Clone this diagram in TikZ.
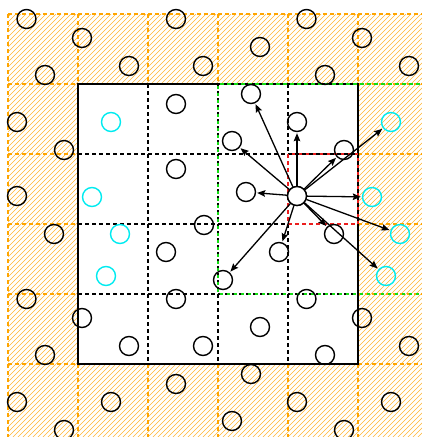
\documentclass[tikz,border=0pt]{standalone}
\usetikzlibrary{arrows.meta}
\definecolor{hatchor}{RGB}{255,180,50}
\definecolor{gridor}{RGB}{255,165,0}
\definecolor{grn}{RGB}{20,220,20}
\definecolor{rd}{RGB}{235,30,30}
\definecolor{cy}{RGB}{0,235,240}
\tikzset{
  p/.style={circle,draw=black,line width=1.4pt,minimum size=19pt,inner sep=0pt},
  q/.style={p,draw=cy},
  ctr/.style={p,fill=white},
  arr/.style={line width=1.3pt,shorten >=1pt,-{Stealth[length=8pt,width=6.5pt,inset=1.2pt]}},
  odash/.style={draw=gridor,line width=1.5pt,dash pattern=on 3.5pt off 3.5pt},
  kdash/.style={draw=black,line width=1.5pt,dash pattern=on 3.5pt off 3.5pt},
  gdash/.style={draw=grn,line width=1.7pt,dash pattern=on 3.5pt off 3.5pt,dash phase=3.5pt},
  rdash/.style={draw=rd,line width=1.7pt,dash pattern=on 3.5pt off 3.5pt}
}
\begin{document}
\begin{tikzpicture}[x=1pt,y=-1pt]
\useasboundingbox (0,0) rectangle (422,437);
\clip (0,0) rectangle (422,437);
% hatching
\begin{scope}
\clip (8,14) rectangle (440,450);
\foreach \c in {0,5,...,900} {
  \draw[hatchor,line width=0.6pt] (\c-460,460) -- (\c,0);
}
\end{scope}
% orange grid
\foreach \v in {14,84,154,224,294,364} { \draw[odash] (8,\v) -- (430,\v); }
\foreach \v in {8,78,148,218,288,358} { \draw[odash] (\v,14) -- (\v,440); }
% inner box
\fill[white] (78,84) rectangle (358,364);
\foreach \v in {148,218,288} { \draw[kdash] (\v,84) -- (\v,364); }
\foreach \v in {154,224,294} { \draw[kdash] (78,\v) -- (358,\v); }
\draw[line width=1.8pt] (78,84) rectangle (358,364);
% neighbour region
\draw[gdash] (430,84) -- (218,84) -- (218,294) -- (430,294);
\draw[rdash] (288,154) rectangle (358,224);
% particles in the box
\node[p] (a1) at (176,104) {};
\node[q] (a2) at (111,122) {};
\node[p] (a3) at (176,169) {};
\node[q] (a4) at (92,197) {};
\node[p] (a5) at (204,225) {};
\node[q] (a6) at (120,234) {};
\node[p] (a7) at (166,252) {};
\node[q] (a8) at (106,276) {};
\node[p] (a9) at (176,299) {};
\node[p] (a10) at (82,318) {};
\node[p] (a11) at (129,346) {};
\node[p] (a12) at (203,346) {};
\node[p] (a13) at (251,94) {};
\node[p] (a14) at (297,122) {};
\node[p] (a15) at (232,141) {};
\node[p] (a16) at (344,150) {};
\node[p] (a17) at (246,192) {};
\node[p] (a19) at (334,234) {};
\node[p] (a20) at (279,252) {};
\node[p] (a21) at (223,280) {};
\node[p] (a22) at (306.5,299) {};
\node[p] (a23) at (260,327) {};
\node[p] (a24) at (325,355) {};
% periodic images
\node[p] (b1) at (176,384) {};
\node[q] (b2r) at (391,122) {};
\node[p] (b2b) at (111,402) {};
\node[p] (b2rb) at (391,402) {};
\node[q] (b4r) at (372,197) {};
\node[q] (b6r) at (400,234) {};
\node[q] (b8r) at (386,276) {};
\node[p] (b9t) at (176,19) {};
\node[p] (b10t) at (82,38) {};
\node[p] (b10r) at (362,318) {};
\node[p] (b10rt) at (362,38) {};
\node[p] (b11t) at (129,66) {};
\node[p] (b11r) at (409,346) {};
\node[p] (b11rt) at (409,66) {};
\node[p] (b12t) at (203,66) {};
\node[p] (b13b) at (251,374) {};
\node[p] (b14l) at (17,122) {};
\node[p] (b14b) at (297,402) {};
\node[p] (b14lb) at (17,402) {};
\node[p] (b15b) at (232,421) {};
\node[p] (b16l) at (64,150) {};
\node[p] (b16b) at (344,430) {};
\node[p] (b16lb) at (64,430) {};
\node[p] (b18l) at (17,196) {};
\node[p] (b19l) at (54,234) {};
\node[p] (b22l) at (26.5,299) {};
\node[p] (b22t) at (306.5,19) {};
\node[p] (b22lt) at (26.5,19) {};
\node[p] (b23t) at (260,47) {};
\node[p] (b24l) at (45,355) {};
\node[p] (b24t) at (325,75) {};
\node[p] (b24lt) at (45,75) {};
% central particle
\node[ctr] (a18) at (297,196) {};
% interactions
\foreach \t in {a13,a14,a15,a16,a17,a19,a20,a21,b2r,b4r,b6r,b8r} {
  \draw[arr] (a18) -- (\t);
}
\node[ctr] at (297,196) {};
\end{tikzpicture}
\end{document}
